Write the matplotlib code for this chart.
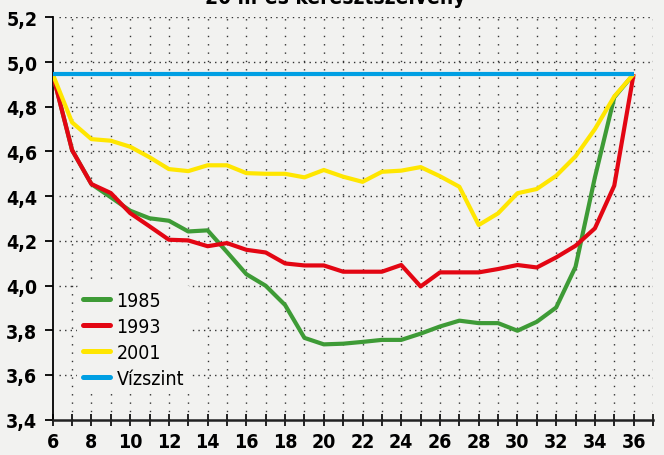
import matplotlib
matplotlib.use("Agg")
import matplotlib.pyplot as plt
from matplotlib import font_manager
from matplotlib.lines import Line2D
from matplotlib.ticker import FuncFormatter, MultipleLocator

# Cross-section profile (water depth / bed level) along the 20 m section
x = list(range(6, 37))
y1985 = [4.946, 4.606, 4.454, 4.395, 4.335, 4.301, 4.290, 4.242, 4.247, 4.150,
         4.051, 3.999, 3.913, 3.766, 3.737, 3.740, 3.748, 3.757, 3.757, 3.785,
         3.817, 3.843, 3.832, 3.832, 3.798, 3.838, 3.902, 4.084, 4.484, 4.842, 4.946]
y1993 = [4.946, 4.606, 4.454, 4.414, 4.324, 4.265, 4.205, 4.202, 4.176, 4.190,
         4.160, 4.148, 4.099, 4.090, 4.090, 4.062, 4.062, 4.062, 4.092, 3.996,
         4.059, 4.059, 4.059, 4.074, 4.092, 4.081, 4.126, 4.178, 4.256, 4.447, 4.946]
y2001 = [4.946, 4.730, 4.655, 4.648, 4.621, 4.574, 4.521, 4.512, 4.538, 4.538,
         4.503, 4.500, 4.500, 4.484, 4.517, 4.487, 4.464, 4.509, 4.514, 4.530,
         4.489, 4.442, 4.271, 4.323, 4.413, 4.432, 4.491, 4.578, 4.700, 4.846, 4.946]
water_level = [4.946] * len(x)

series_labels = ["1985", "1993", "2001", "Vízszint"]
series_colors = ["#3E9B36", "#E30613", "#FFE600", "#009FE3"]
title = "20 m-es keresztszelvény"


def pick_family():
    names = {f.name: f for f in font_manager.fontManager.ttflist}
    if "Liberation Sans Narrow" in names:
        return "Liberation Sans Narrow", "normal"
    for f in font_manager.fontManager.ttflist:
        if f.name == "DejaVu Sans" and f.stretch == "condensed":
            return "DejaVu Sans", "condensed"
    return "DejaVu Sans", "normal"


family, stretch = pick_family()
plt.rcParams["font.family"] = [family, "DejaVu Sans"]
plt.rcParams["font.stretch"] = stretch

bg = "#F2F2F0"
fig = plt.figure(figsize=(6.64, 4.56), dpi=100, facecolor=bg)
ax = fig.add_axes([52.7 / 664, 1 - 420.7 / 456, 600.3 / 664, 402.4 / 456])
ax.set_facecolor(bg)

for ys, lab, col in zip([y1985, y1993, y2001, water_level], series_labels, series_colors):
    ax.plot(x, ys, color=col, lw=3.0, label=lab, solid_joinstyle="round",
            solid_capstyle="butt", zorder=3)

ax.set_xlim(6, 37)
ax.set_ylim(3.4, 5.2)
ax.yaxis.set_major_locator(MultipleLocator(0.2))

ax.set_xticks(range(6, 38))
ax.set_xticklabels([str(v) if v % 2 == 0 and v <= 36 else "" for v in range(6, 38)])
ax.yaxis.set_major_formatter(FuncFormatter(lambda v, p: f"{v:.1f}".replace(".", ",")))

# dotted grid: verticals at every metre, horizontals every 0.2
for xv in range(7, 38):
    ax.plot([xv, xv], [3.4, 5.2], color="#333333", lw=1.0, ls=(0, (1, 5)), zorder=1)
for yv in [3.6, 3.8, 4.0, 4.2, 4.4, 4.6, 4.8, 5.0, 5.2]:
    ax.plot([6.3, 37], [yv, yv], color="#333333", lw=1.0, ls=(0, (1, 3.0)), zorder=1)

for s in ["top", "right"]:
    ax.spines[s].set_visible(False)
ax.spines["left"].set_linewidth(1.3)
ax.spines["bottom"].set_linewidth(1.8)
ax.spines["bottom"].set_color("#222222")

tick_font = dict(family=[family, "DejaVu Sans"], weight="bold", size=14, stretch=stretch)
ax.tick_params(axis="y", direction="out", length=6, width=1.3, pad=5)
ax.tick_params(axis="x", direction="inout", length=9, width=1.2, pad=4)
for t in ax.get_xticklabels() + ax.get_yticklabels():
    t.set_fontproperties(font_manager.FontProperties(**tick_font))

handles = [Line2D([0], [0], color=c, lw=3.6, solid_capstyle="round") for c in series_colors]
leg = ax.legend(handles, series_labels, loc="upper left", bbox_to_anchor=(0.04, 0.335),
                frameon=True, facecolor=bg, edgecolor="none", framealpha=1,
                borderaxespad=0, borderpad=0.3, handlelength=1.4, handletextpad=0.35,
                labelspacing=0.36, prop=dict(family=[family, "DejaVu Sans"], size=14,
                                             stretch=stretch))
leg.set_zorder(2)

fig.text(0.505, 1 - 4 / 456, title, ha="center", va="baseline", fontsize=15,
         fontweight="bold", family=[family, "DejaVu Sans"], stretch=stretch)

fig.savefig("out.png", dpi=100, facecolor=bg)
